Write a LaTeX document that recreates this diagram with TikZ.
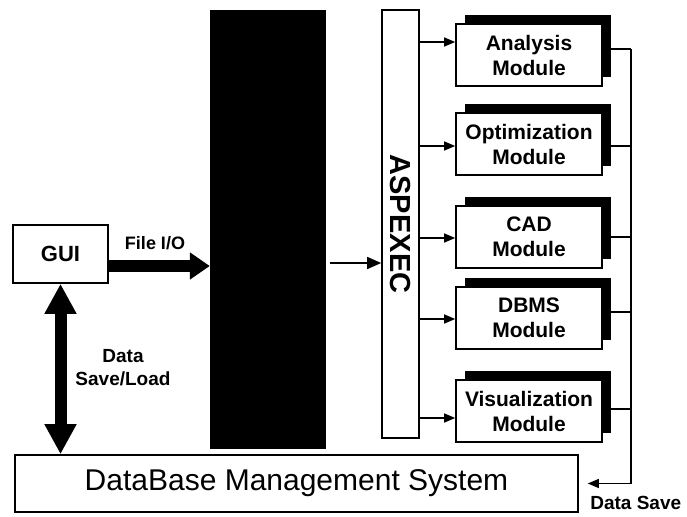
\documentclass[tikz,border=0pt]{standalone}
\usepackage{fontspec}
\setmainfont{Liberation Sans}
\usetikzlibrary{arrows.meta,shadows}

\begin{document}
\begin{tikzpicture}[
x=1pt, y=-1pt,
box/.style={draw, line width=1.6pt, fill=white, inner sep=0pt},
module/.style={box, minimum width=146pt, minimum height=62pt, align=center,
	font=\bfseries\fontsize{21}{25}\selectfont,
	general shadow={fill=black, shadow xshift=9pt, shadow yshift=9pt}},
note/.style={font=\bfseries\fontsize{19}{23}\selectfont, align=center},
link/.style={line width=1.4pt},
feed/.style={link, -{Triangle[width=9pt,length=11pt]}},
fat/.style={line width=12pt}
]
\useasboundingbox (0,0) rectangle (687,516);

%%% GUI and pre-processor
\node[box, minimum width=95pt, minimum height=58pt, font=\bfseries\fontsize{22}{26}\selectfont] (gui) at (60.5,254) {GUI};
\node[fill=black, minimum width=116pt, minimum height=439pt, inner sep=0pt] (core) at (268,229.5) {};

\coordinate (io) at ([yshift=-12pt]gui.east);
\draw[fat, -{Triangle[width=26pt,length=20pt]}] (io) -- (io -| core.west);
\node[font=\bfseries\fontsize{18}{21}\selectfont] (io label) at (155,243) {File I/O};

%%% executive
\node[box, minimum width=37pt, minimum height=428pt, font=\bfseries\fontsize{29}{32}\selectfont] (aspexec) at (400.5,224) {\rotatebox{-90}{ASPEXEC}};

\coordinate (exec) at ([yshift=-33.5pt]core.east);
\draw[link, shorten <=4pt, -{Triangle[width=12pt,length=14pt]}] (exec) -- (exec -| aspexec.west);

%%% database
\node[box, minimum width=563pt, minimum height=57pt, font=\fontsize{30}{34}\selectfont] (dbms) at (296.5,483.5) {DataBase Management System};

\draw[fat, {Triangle[width=30pt,length=30pt]}-{Triangle[width=30pt,length=30pt]}] (gui.south) -- (gui.south |- dbms.north);
\node[note] (load label) at (123,368) {Data\\Save/Load};

%%% modules
\coordinate (bus) at (631,49);
\foreach \name/\txt/\y/\ain/\aout in {
	analysis/Analysis/55/13/6,
	optim/Optimization/144/-2/-2,
	cad/CAD/237/-1/0,
	db/DBMS/318/-1/6,
	vis/Visualization/411/-7/2
	}{
	\node[module] (\name) at (529,\y) {\txt\\Module};
	\coordinate (in) at ([yshift=\ain pt]\name.west);
	\coordinate (out) at ([yshift=\aout pt]\name.east);
	\draw[feed] (in -| aspexec.east) -- (in);
	\draw[link] (out) -- (out -| bus);
}

\draw[link, -{Triangle[width=9pt,length=11pt]}] (bus) |- ([xshift=9pt]dbms.east);
\node[note, anchor=west] (save label) at ([xshift=8pt,yshift=-19pt]dbms.east) {Data Save};

\end{tikzpicture}
\end{document}
